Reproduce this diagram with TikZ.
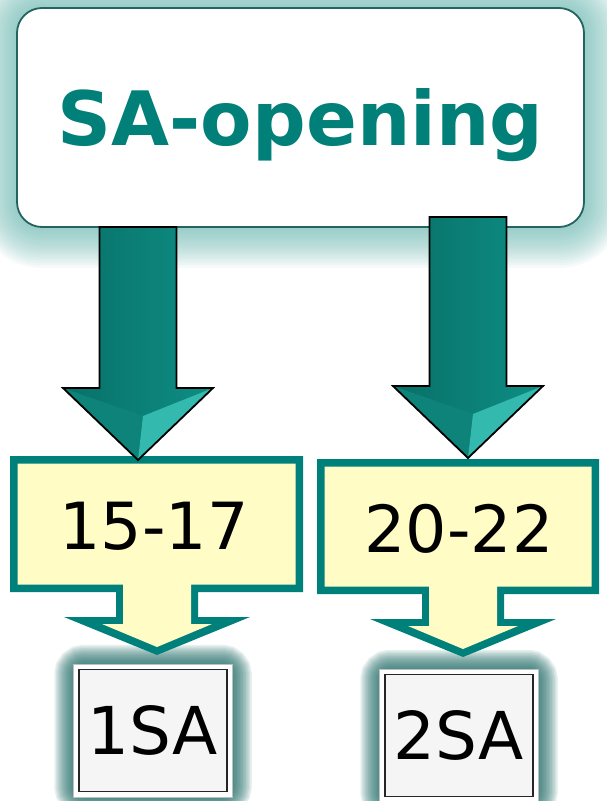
\documentclass[tikz,border=0pt]{standalone}
\usepackage{fontspec}
\setmainfont{DejaVu Sans}
\usepackage{tikz}
\usetikzlibrary{backgrounds}

\definecolor{tealtext}{RGB}{0,128,120}
\definecolor{tealline}{RGB}{0,128,122}
\definecolor{boxline}{RGB}{35,100,96}
\definecolor{calloutfill}{RGB}{255,252,198}
\definecolor{arrowdark}{RGB}{8,112,104}
\definecolor{arrowmid}{RGB}{14,142,132}
\definecolor{arrowlight}{RGB}{62,196,184}
\definecolor{glowlight}{RGB}{96,178,170}
\definecolor{glowdark}{RGB}{26,104,98}

\tikzset{
  topbox/.style={draw=boxline, line width=1.8pt, fill=white, rounded corners=25pt,
    minimum width=567pt, minimum height=219pt, inner sep=0pt,
    text height=55pt, text depth=0pt, text=tealtext,
    font=\fontsize{75}{75}\selectfont\bfseries},
  rangebox/.style={inner sep=0pt, text height=47pt, text depth=0pt,
    font=\fontsize{65}{65}\selectfont},
  bidbox/.style={draw=black!85, line width=1.5pt, fill=black!4,
    minimum width=148pt, minimum height=122pt, inner sep=0pt,
    text height=48pt, text depth=0pt, font=\fontsize{66}{66}\selectfont,
    preaction={draw=black!25, line width=12pt},
    preaction={draw=white, line width=10pt}},
  topglow/.style={draw=glowlight, opacity=0.06, rounded corners=25pt},
  bidglow/.style={draw=glowdark, opacity=0.1, rounded corners=6pt}
}

\begin{document}
\begin{tikzpicture}[x=1pt, y=-1pt]
\useasboundingbox (0,0) rectangle (606,801);

\node[topbox] (open) at (300.5,117.5) {SA-opening};

% callouts
\foreach \l/\r/\t/\b/\c in {10/303/456/592/157, 317/599/459/594/463}{
  \fill[tealline] (\l,\t) -- (\r,\t) -- (\r,\b) -- (\c+41,\b) -- (\c+41,\b+25)
    -- (\c+93,\b+25) -- (\c,\b+63) -- (\c-93,\b+25) -- (\c-41,\b+25)
    -- (\c-41,\b) -- (\l,\b) -- cycle;
  \fill[calloutfill] (\l+7.5,\t+7.5) -- (\r-7.5,\t+7.5) -- (\r-7.5,\b-7.5)
    -- (\c+34,\b-7.5) -- (\c+34,\b+32) -- (\c+55,\b+32) -- (\c,\b+55)
    -- (\c-55,\b+32) -- (\c-34,\b+32) -- (\c-34,\b-7.5) -- (\l+7.5,\b-7.5) -- cycle;
}
\node[rangebox] (c1) at (154,526) {15-17};
\node[rangebox] (c2) at (459,529) {20-22};

\node[bidbox] (b1) at (153,730.5) {1SA};
\node[bidbox] (b2) at (459,735.5) {2SA};

% big arrows
\coordinate (t1) at (138,460);
\coordinate (t2) at (468,458);
\foreach \t/\s in {t1/161, t2/169}{
  \shade[left color=arrowdark, right color=arrowmid] (\t) -- ++(75,-72) -- ++(-36.5,0)
    -- ++(0,-\s) -- ++(-77,0) -- ++(0,\s) -- ++(-36.5,0) -- cycle;
  \fill[arrowmid!92!black] (\t) -- ++(-75,-72) -- ++(80,28) -- cycle;
  \fill[arrowlight!80!arrowmid] (\t) -- ++(75,-72) -- ++(-70,28) -- cycle;
  \draw[black, line width=1.8pt, line join=miter] (\t) -- ++(75,-72) -- ++(-36.5,0)
    -- ++(0,-\s) -- ++(-77,0) -- ++(0,\s) -- ++(-36.5,0) -- cycle;
}

% glows
\begin{scope}[on background layer]
\foreach \w in {5,10,...,80}
  \draw[topglow, line width=\w pt] (open.north west) rectangle (open.south east);
\foreach \b in {b1,b2}
  \foreach \w in {3,6,...,48}
    \draw[bidglow, line width=\w pt] (\b.north west) rectangle (\b.south east);
\end{scope}
\end{tikzpicture}
\end{document}
